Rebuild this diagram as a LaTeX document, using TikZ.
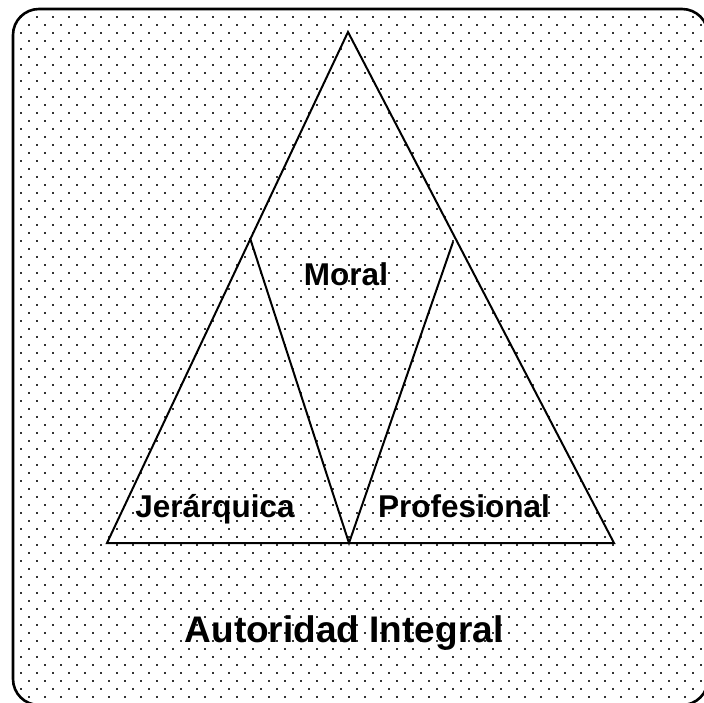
\documentclass[tikz,border=0pt]{standalone}
\usepackage{fontspec}
\setmainfont{Liberation Sans}
\begin{document}
\begin{tikzpicture}[x=1pt,y=-1pt,
  edge/.style={line width=2pt,line join=miter},
  lbl/.style={font=\fontsize{31.5}{36}\selectfont\bfseries,anchor=base,inner sep=0pt},
  ttl/.style={font=\fontsize{37}{42}\selectfont\bfseries,anchor=base,inner sep=0pt},
  dotfill/.style={fill=black!80}]
\useasboundingbox (0,0) rectangle (704,702);
\fill[white] (0,0) rectangle (704,702);
% dotted background inside rounded box
\begin{scope}
  \clip[rounded corners=26pt] (13,9) rectangle (708,705);
  \foreach \j in {0,...,87} {
    \pgfmathsetmacro{\yy}{17.3+8*\j}
    \pgfmathsetmacro{\off}{mod(\j,2)==0 ? 5.3 : 13.3}
    \foreach \i in {0,...,44} {
      \fill[dotfill] ({\off+16*\i-1},{\yy-1}) rectangle ({\off+16*\i+1},{\yy+1});
    }
  }
\end{scope}
\draw[line width=2.6pt,rounded corners=26pt] (13,9) rectangle (708,705);
% triangles
\coordinate (apex) at (348,32);
\coordinate (bl) at (107,543);
\coordinate (br) at (614,543);
\coordinate (bm) at (349,543);
\coordinate (lt) at (250,238);
\coordinate (rt) at (453,242);
\draw[edge] (apex) -- (bl) -- (br) -- cycle;
\draw[edge] (lt) -- (bm) -- (rt);
% labels
\node[lbl] (moral) at (346,285) {Moral};
\node[lbl] (jer) at (215,517) {Jerárquica};
\node[lbl] (prof) at (464,517) {Profesional};
\node[ttl] (title) at (344,642) {Autoridad Integral};
\end{tikzpicture}
\end{document}
